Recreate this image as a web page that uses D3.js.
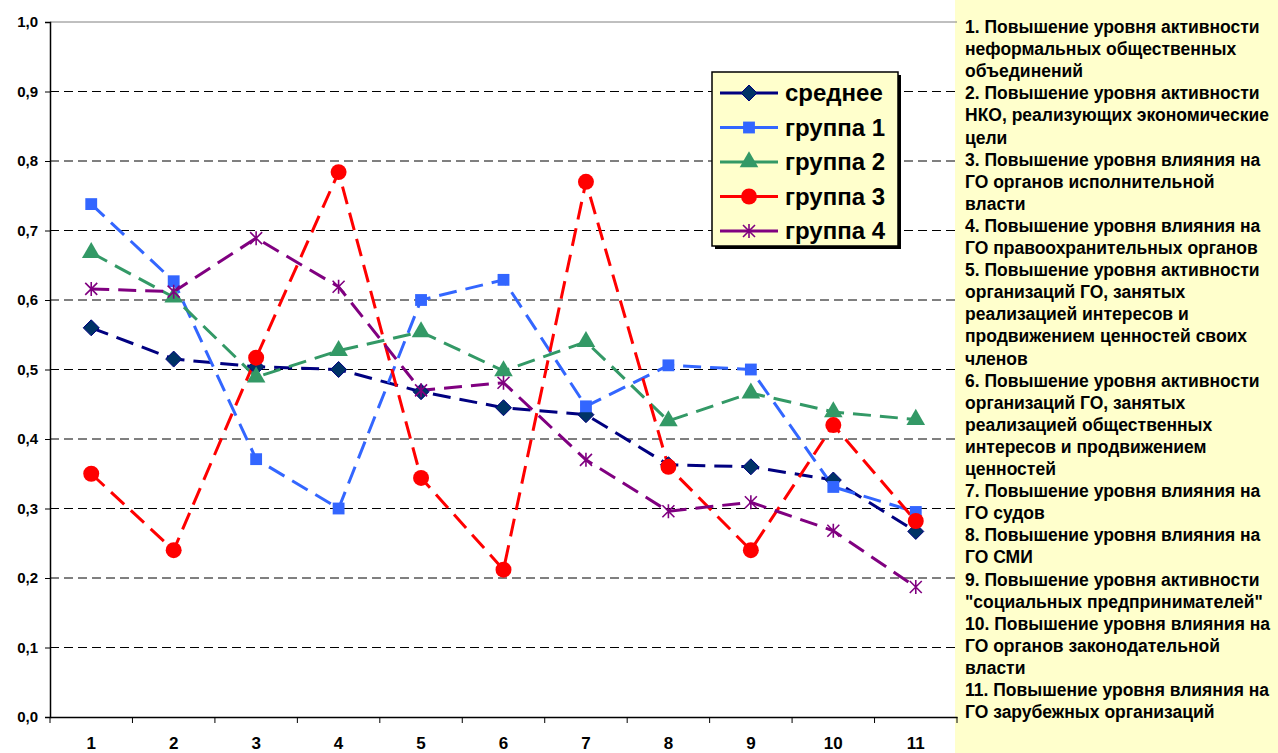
<!DOCTYPE html>
<html><head><meta charset="utf-8">
<script src="https://cdn.jsdelivr.net/npm/d3@7"></script>
<style>
body{margin:0;background:#fff;}
svg{display:block;font-family:"Liberation Sans",Arial,sans-serif;}
</style></head>
<body><svg id="c" width="1278" height="753"></svg>
<script>
const categories = ["1","2","3","4","5","6","7","8","9","10","11"];
const yTicks = [0,0.1,0.2,0.3,0.4,0.5,0.6,0.7,0.8,0.9,1.0];
const seriesNames = ["среднее","группа 1","группа 2","группа 3","группа 4"];
const avgValues    = [0.560,0.515,0.504,0.500,0.468,0.445,0.435,0.363,0.360,0.341,0.267];
const group1Values = [0.738,0.627,0.371,0.300,0.600,0.629,0.447,0.506,0.500,0.331,0.295];
const group2Values = [0.668,0.604,0.489,0.527,0.554,0.498,0.540,0.426,0.466,0.439,0.428];
const group3Values = [0.350,0.240,0.517,0.784,0.344,0.212,0.770,0.360,0.240,0.420,0.282];
const group4Values = [0.616,0.612,0.689,0.619,0.470,0.481,0.370,0.296,0.309,0.268,0.187];
const notes = [
 "1. Повышение уровня активности","неформальных общественных","объединений",
 "2. Повышение уровня активности","НКО, реализующих экономические","цели",
 "3. Повышение уровня влияния на","ГО органов исполнительной","власти",
 "4. Повышение уровня влияния на","ГО правоохранительных органов",
 "5. Повышение уровня активности","организаций ГО, занятых","реализацией интересов и","продвижением ценностей своих","членов",
 "6. Повышение уровня активности","организаций ГО, занятых","реализацией общественных","интересов и продвижением","ценностей",
 "7. Повышение уровня влияния на","ГО судов",
 "8. Повышение уровня влияния на","ГО СМИ",
 "9. Повышение уровня активности","\"социальных предпринимателей\"",
 "10. Повышение уровня влияния на","ГО органов законодательной","власти",
 "11. Повышение уровня влияния на","ГО зарубежных организаций"
];

const series = [
 {name:seriesNames[0], values:avgValues,    color:"#000080", fill:"#003366", marker:"diamond"},
 {name:seriesNames[1], values:group1Values, color:"#3366FF", fill:"#3366FF", marker:"square"},
 {name:seriesNames[2], values:group2Values, color:"#339966", fill:"#339966", marker:"triangle"},
 {name:seriesNames[3], values:group3Values, color:"#FF0000", fill:"#FF0000", marker:"circle"},
 {name:seriesNames[4], values:group4Values, color:"#800080", fill:"none",    marker:"star"}
];

const svg = d3.select("#c");
const L=50, R=957, T=22, B=717;
const x = d3.scaleBand().domain(categories).range([L,R]);
const y = d3.scaleLinear().domain([0,1]).range([B,T]);

// right panel
svg.append("rect").attr("x",955).attr("y",0).attr("width",323).attr("height",753).attr("fill","#FFFFCC");
svg.append("g").selectAll("text").data(notes).join("text")
  .attr("x",965).attr("y",(d,i)=>33+i*22.1)
  .attr("font-size",17.5).attr("font-weight","bold").attr("fill","#000").text(d=>d);

// gridlines
svg.append("g").selectAll("line").data(yTicks.filter(t=>t>0&&t<1)).join("line")
  .attr("x1",L).attr("x2",R).attr("y1",d=>y(d)).attr("y2",d=>y(d))
  .attr("stroke","#000").attr("stroke-width",1).attr("stroke-dasharray","9,5");
svg.append("line").attr("x1",L).attr("x2",R).attr("y1",y(1)).attr("y2",y(1)).attr("stroke","#808080").attr("stroke-width",1);

// axes
const yAxis = svg.append("g").attr("transform",`translate(${L},0)`)
  .call(d3.axisLeft(y).tickValues(yTicks).tickSize(5).tickFormat(d=>d3.format(".1f")(d).replace(".",",")));
yAxis.select(".domain").attr("stroke","#000").attr("stroke-width",1.5);
yAxis.selectAll(".tick line").attr("stroke","#000");
yAxis.selectAll("text").attr("font-size",15).attr("font-weight","bold").attr("fill","#000")
  .attr("font-family","Liberation Sans, Arial, sans-serif").attr("dx",-4);

const xAxis = svg.append("g").attr("transform",`translate(0,${B})`)
  .call(d3.axisBottom(x).tickSize(0));
xAxis.select(".domain").attr("stroke","#000").attr("stroke-width",1.5);
xAxis.selectAll("text").attr("font-size",17).attr("font-weight","bold").attr("fill","#000")
  .attr("font-family","Liberation Sans, Arial, sans-serif").attr("y",32).attr("dy",0);
svg.append("g").selectAll("line").data(d3.range(categories.length+1)).join("line")
  .attr("x1",i=>L+i*x.step()).attr("x2",i=>L+i*x.step()).attr("y1",B).attr("y2",B+6)
  .attr("stroke","#000");

// lines
const line = d3.line().x((d,i)=>x(categories[i])+x.bandwidth()/2).y(d=>y(d));
const markerPath = {
  diamond: "M0,-8L8,0L0,8L-8,0Z",
  square: d3.symbol(d3.symbolSquare, 140)(),
  triangle: d3.symbol(d3.symbolTriangle, 150)(),
  circle: d3.symbol(d3.symbolCircle, 200)(),
  star: "M-6,-6L6,6M-6,6L6,-6M0,-7L0,7"
};
function drawMarker(g, s){
  const p = g.append("path").attr("d", markerPath[s.marker]);
  if(s.marker==="star") p.attr("fill","none").attr("stroke",s.color).attr("stroke-width",1.6);
  else if(s.marker==="diamond") p.attr("fill",s.fill).attr("stroke",s.color).attr("stroke-width",1);
  else p.attr("fill",s.fill).attr("stroke","none");
}
series.forEach(s=>{
  svg.append("path").datum(s.values).attr("d",line).attr("fill","none")
    .attr("stroke",s.color).attr("stroke-width",3).attr("stroke-dasharray","18,9");
});
series.forEach(s=>{
  s.values.forEach((v,i)=>{
    const g = svg.append("g").attr("transform",`translate(${x(categories[i])+x.bandwidth()/2},${y(v)})`);
    drawMarker(g,s);
  });
});

// legend
const lg = svg.append("g").attr("transform","translate(712,72)");
lg.append("rect").attr("x",3).attr("y",3).attr("width",186).attr("height",174).attr("fill","#000");
lg.append("rect").attr("x",0).attr("y",0).attr("width",186).attr("height",174).attr("fill","#FFFFCC").attr("stroke","#000").attr("stroke-width",1.5);
series.forEach((s,i)=>{
  const yy = 21 + i*34.5;
  lg.append("line").attr("x1",8).attr("x2",66).attr("y1",yy).attr("y2",yy).attr("stroke",s.color).attr("stroke-width",3);
  const g = lg.append("g").attr("transform",`translate(37,${yy})`);
  drawMarker(g,s);
  lg.append("text").attr("x",73).attr("y",yy+8).attr("font-size",24).attr("font-weight","bold").attr("fill","#000").text(s.name);
});
</script></body></html>
